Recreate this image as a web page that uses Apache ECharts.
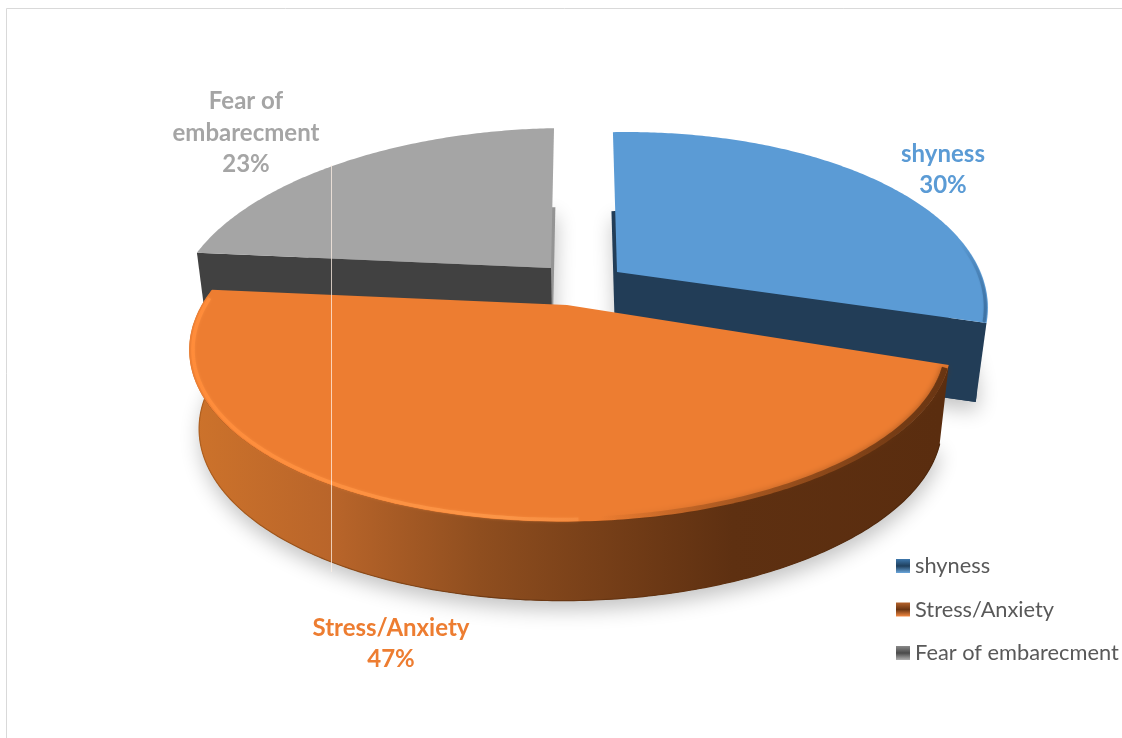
<!DOCTYPE html>
<html><head><meta charset="utf-8">
<style>html,body{margin:0;padding:0;background:#fff}#c{width:1122px;height:738px}</style>
<script src="https://cdn.jsdelivr.net/npm/echarts@6/dist/echarts.min.js"></script>
</head><body><div id="c"></div>
<script>
// ---- data ----
const categories = ['shyness', 'Stress/Anxiety', 'Fear of embarecment'];
const labelNames = ['shyness', 'Stress/Anxiety', 'Fear of\nembarecment'];
const values = [30, 47, 23];

// ---- 3D pie layout (projection of each exploded slice) ----
const PERSP = 0.2157, DEPTH = 79, BOTTOM_SCALE = 0.975;
const layout = [
  {ax:617, ay:272, vx:594, rimDy:0, R:361, e:0, ry:170, tilt:5.5, bdx:-1,
   top:'#5b9bd5', cut:'#223d57', side:'#223d57', label:[943,170], labelColor:'#5b9bd5', z:2},
  {ax:567, ay:305, vx:585, rimDy:5, R:372, e:0.011, ry:166, tilt:0, bdx:0,
   top:'#ed7d31', cut:'#5a2e10', side:'#5a2e10', label:[391,644], labelColor:'#ed7d31', z:3},
  {ax:551, ay:268, vx:568, rimDy:0, R:367, e:0, ry:170, tilt:5.5, bdx:1,
   top:'#a5a5a5', cut:'#414141', side:'#949494', label:[246,133], labelColor:'#a5a5a5', z:2}
];
const legendStops = [
  ['#3e78ad','#1f3f5c','#6aa6dc'], ['#b5622a','#6b3512','#f58a42'], ['#8a8a8a','#4a4a4a','#b0b0b0']
];
const G = echarts.graphic;
const LG = (x0,y0,x1,y1,stops)=>new G.LinearGradient(x0,y0,x1,y1,stops.map(s=>({offset:s[0],color:s[1]})),true);

function proj(L, deg, rScale){
  const a = deg*Math.PI/180, u = Math.sin(a), v = -Math.cos(a), k = rScale==null?1:rScale;
  const s = 1/(1-PERSP*v);
  return [L.vx + (L.ax-L.vx + L.R*(1+L.e*u)*k*u)*s, L.ay + L.rimDy + L.ry*k*v*s - L.tilt*u];
}
function down(L,p){ return [L.vx+(p[0]-L.vx)*BOTTOM_SCALE+L.bdx, p[1]+DEPTH]; }
function arc(L,a0,a1,k){
  const n=Math.max(12,Math.round(Math.abs(a1-a0)*1.5)), r=[];
  for(let i=0;i<=n;i++) r.push(proj(L,a0+(a1-a0)*i/n,k));
  return r;
}
function poly(points,style){ return {type:'polygon',silent:true,shape:{points},style}; }
function line(points,style){ return {type:'polyline',silent:true,shape:{points},style:Object.assign({fill:null,lineJoin:'round',lineCap:'round'},style)}; }

function renderSlice(params){
  const i = params.seriesIndex, L = layout[i];
  const total = values.reduce((a,b)=>a+b,0);
  let start = 0; for(let j=0;j<i;j++) start += values[j]/total*360;
  const end = start + values[i]/total*360;
  const rim = arc(L,start,end);
  const A = [L.ax,L.ay], Ab = down(L,A);
  const rimB = rim.map(p=>down(L,p));
  const topPts = [A].concat(rim);
  const botPts = [Ab].concat(rimB);
  const ch = [];
  // base with cast shadow
  ch.push(poly(botPts,{fill:L.side,shadowColor:'rgba(0,0,0,0.24)',shadowBlur:20,shadowOffsetY:9,shadowOffsetX:1}));
  if(i===0){
    const e=rim[rim.length-1], eb=rimB[rimB.length-1];
    ch.push(poly([A,e,eb,Ab],{fill:L.cut}));
    ch.push(poly(topPts,{fill:L.top}));
    ch.push(line(arc(L,72,107.5,0.993),{stroke:LG(965,240,988,310,[[0,'rgba(63,116,166,0)'],[1,'#3f74a6']]),lineWidth:3,shadowBlur:2,shadowColor:'rgba(63,116,166,0.6)'}));
  } else if(i===2){
    const e=rim[0], eb=rimB[0];
    ch.push(poly([A,e,eb,Ab],{fill:L.cut}));
    ch.push(poly(topPts,{fill:L.top}));
  } else {
    ch.push(poly(rim.concat(rimB.slice().reverse()),{
      fill:LG(198,0,940,0,[[0,'#cc722b'],[0.18,'#b9652a'],[0.38,'#8f4e1f'],[0.52,'#7a4119'],[0.72,'#5e3011'],[1,'#5a2d0f']])
    }));
    ch.push(line(rimB,{stroke:LG(198,0,940,0,[[0,'#b0601f'],[0.4,'#6f3a14'],[1,'#4e270c']]),lineWidth:1.2}));
    ch.push(poly(topPts,{fill:L.top}));
    // soft dark bevel on the right part of the rim
    ch.push(line(arc(L,start+1,end-70,0.992),{stroke:LG(600,0,945,0,[[0,'rgba(100,50,15,0)'],[0.4,'rgba(100,50,15,0.4)'],[1,'rgba(90,45,15,0.85)']]),lineWidth:6,lineCap:'butt',shadowBlur:6,shadowColor:'rgba(100,50,15,0.7)'}));
    // bright bevel fading out to the right
    ch.push(line(arc(L,start+70,end-3,0.99),{stroke:LG(190,0,945,0,[[0,'#ff8c3a'],[0.42,'#fb9547'],[0.56,'rgba(245,140,65,0.6)'],[0.66,'rgba(237,125,49,0)'],[1,'rgba(237,125,49,0)']]),lineWidth:3.5,lineCap:'butt',shadowBlur:3,shadowColor:'rgba(255,150,70,0.5)'}));
  }
  ch.push({type:'text',silent:true,style:{
    x:L.label[0],y:L.label[1],text:labelNames[i]+'\n'+Math.round(values[i]/total*100)+'%',
    align:'center',verticalAlign:'middle',fill:L.labelColor,
    font:'bold 24px Lato, "Noto Sans", sans-serif',lineHeight:31.5
  }});
  return {type:'group',children:ch};
}

const chart = echarts.init(document.getElementById('c'),null,{renderer:'canvas'});
chart.setOption({
  animation:false,
  backgroundColor:'#ffffff',
  legend:{
    orient:'vertical',left:891,top:550,itemWidth:14,itemHeight:14,itemGap:21.5,icon:'rect',
    textStyle:{fontFamily:'Lato, "Noto Sans", sans-serif',fontSize:21.8,color:'#595959'},
    data:categories.map((n,i)=>({name:n,itemStyle:{color:new G.LinearGradient(0,0,0,1,[
      {offset:0,color:legendStops[i][0]},{offset:0.5,color:legendStops[i][1]},{offset:1,color:legendStops[i][2]}])}}))
  },
  graphic:[
    {type:'line',silent:true,z:20,shape:{x1:6.5,y1:8.5,x2:1122,y2:8.5},style:{stroke:'#d9d9d9',lineWidth:1}},
    {type:'line',silent:true,z:20,shape:{x1:6.5,y1:8.5,x2:6.5,y2:738},style:{stroke:'#d9d9d9',lineWidth:1}},
    {type:'line',silent:true,z:20,shape:{x1:331.5,y1:165,x2:331.5,y2:572},style:{stroke:'rgba(255,240,230,0.75)',lineWidth:1}}
  ],
  series:categories.map((n,i)=>({
    type:'custom',name:n,coordinateSystem:'none',z:layout[i].z,silent:true,
    itemStyle:{color:layout[i].top},
    renderItem:renderSlice,
    data:[values[i]]
  }))
});
</script></body></html>
